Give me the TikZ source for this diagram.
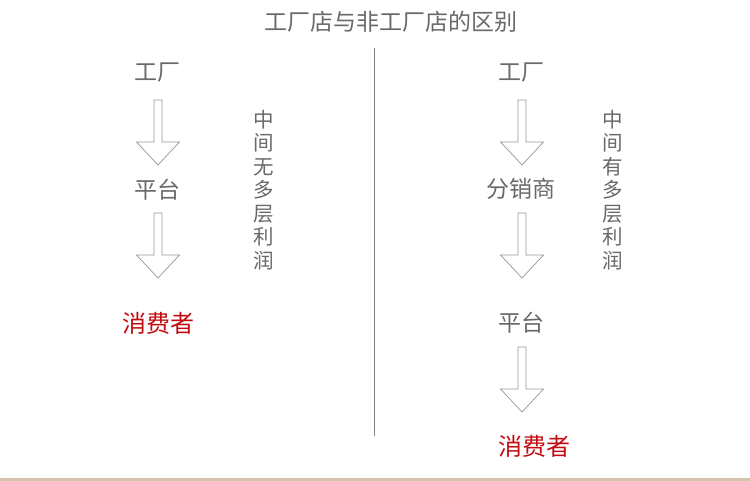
\documentclass[tikz,border=0pt]{standalone}
\usepackage{fontspec}
\setmainfont{Noto Sans CJK SC}
\usetikzlibrary{positioning}
\definecolor{labelgray}{RGB}{105,105,105}
\definecolor{arrowgray}{RGB}{150,150,150}
\definecolor{buyerred}{RGB}{195,10,15}
\definecolor{rulegray}{RGB}{130,130,130}
\definecolor{footbeige}{RGB}{212,196,172}
\tikzset{
  step label/.style={
    text = labelgray,
    inner sep = 1pt,
    font = \fontsize{23}{26}\selectfont
  },
  buyer/.style={
    step label,
    text = buyerred,
    font = \fontsize{24}{27}\selectfont
  },
  side note/.style={
    text = labelgray,
    align = center,
    inner sep = 0pt,
    font = \fontsize{20.5}{23.5}\selectfont
  },
  hollow/.style={
    draw = arrowgray,
    line width = 0.7pt,
    line join = miter
  }
}
% hollow down arrow: x of its axis, y of its top
\newcommand{\hollowarrow}[2]{%
  \draw[hollow] (#1-4,#2) -- (#1-4,#2+42) -- (#1-21.5,#2+42) -- (#1,#2+65)
    -- (#1+21.5,#2+42) -- (#1+4,#2+42) -- (#1+4,#2) -- cycle;}
\begin{document}
\begin{tikzpicture}[x=1pt,y=-1pt]
    \useasboundingbox (0,0) rectangle (750,481);
    \node[step label] (title) at (391,22) {工厂店与非工厂店的区别};
    \draw[rulegray, line width=0.6pt] (374,48) -- (374,436);
    \draw[footbeige, line width=3pt] (0,479.5) -- (750,479.5);
    % left column
    \node[step label] (lfactory) at (157,73) {工厂};
    \node[step label] (lplatform) at (157,190) {平台};
    \node[buyer] (lbuyer) at (158,323) {消费者};
    \node[side note] (lnote) at (264,190) {中\\间\\无\\多\\层\\利\\润};
    % right column
    \node[step label] (rfactory) at (521,73) {工厂};
    \node[step label] (rdealer) at (521,189) {分销商};
    \node[step label] (rplatform) at (521,323) {平台};
    \node[buyer] (rbuyer) at (534,446) {消费者};
    \node[side note] (rnote) at (613,190) {中\\间\\有\\多\\层\\利\\润};
      \foreach \x/\y in {158/100,158/213,522/100,522/213,522/347}{
        \hollowarrow{\x}{\y}
      }
\end{tikzpicture}
\end{document}
